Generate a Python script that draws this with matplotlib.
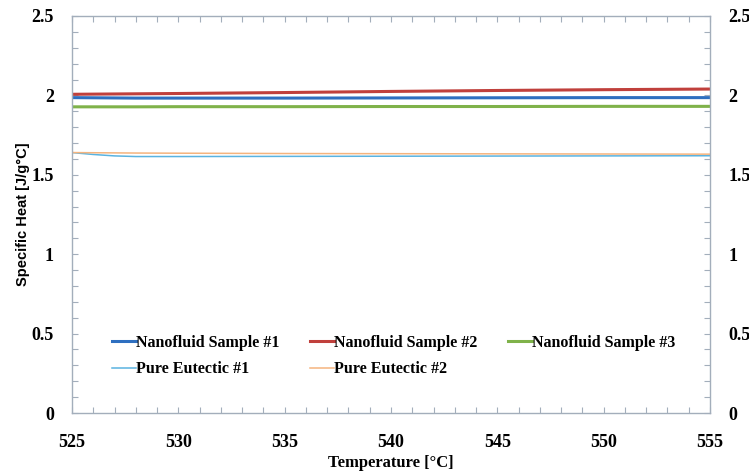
import matplotlib
matplotlib.use("Agg")
import matplotlib.pyplot as plt
from matplotlib.ticker import MultipleLocator, FuncFormatter

temperature = [525, 526, 527, 528, 530, 535, 540, 545, 550, 555]
nano1 = [1.986, 1.985, 1.984, 1.983, 1.983, 1.983, 1.984, 1.985, 1.986, 1.986]
nano2 = [2.007, 2.008, 2.009, 2.010, 2.012, 2.018, 2.025, 2.031, 2.036, 2.040]
nano3 = [1.928, 1.928, 1.928, 1.928, 1.929, 1.929, 1.930, 1.930, 1.931, 1.931]
pure1 = [1.640, 1.628, 1.619, 1.615, 1.615, 1.616, 1.617, 1.618, 1.619, 1.620]
pure2 = [1.640, 1.639, 1.638, 1.637, 1.636, 1.634, 1.633, 1.632, 1.631, 1.630]

series = [
    ("Nanofluid Sample #1", nano1, "#2e6fc0", 2.2),
    ("Nanofluid Sample #2", nano2, "#c0403c", 2.2),
    ("Nanofluid Sample #3", nano3, "#7fb24a", 2.2),
    ("Pure Eutectic #1", pure1, "#5ab3e0", 1.1),
    ("Pure Eutectic #2", pure2, "#f5b47e", 1.1),
]

plt.rcParams['font.family'] = ['Liberation Serif', 'DejaVu Serif']
plt.rcParams['font.weight'] = 'bold'

fig = plt.figure(figsize=(7.49, 4.74), dpi=100)
ax = fig.add_axes([72/749, 1-413/474, (710-72)/749, (413-16)/474])

handles = {}
for label, vals, color, lw in series:
    h, = ax.plot(temperature, vals, color=color, lw=lw, label=label)
    handles[label] = h

ax.set_xlim(525, 555)
ax.set_ylim(0, 2.5)
ax.xaxis.set_major_locator(MultipleLocator(5))
ax.xaxis.set_minor_locator(MultipleLocator(1))
ax.yaxis.set_major_locator(MultipleLocator(0.5))
ax.yaxis.set_minor_locator(MultipleLocator(0.1))
ax.yaxis.set_major_formatter(FuncFormatter(lambda v, p: f"{v:g}"))

spine_color = "#a3aebb"
for s in ax.spines.values():
    s.set_color(spine_color)
    s.set_linewidth(1.0)

ax.tick_params(which='both', direction='in', top=True, right=True,
               labelright=True, color=spine_color, length=4, width=0.8,
               labelsize=13)
ax.tick_params(axis='y', pad=13)
ax.tick_params(axis='x', pad=15)

ax.set_xlabel("Temperature [°C]", fontsize=12, fontweight='bold', labelpad=3)
ax.set_ylabel("Specific Heat [J/g°C]", fontsize=10.5, fontweight='bold', labelpad=1,
              family=['Liberation Sans Narrow', 'Liberation Sans', 'DejaVu Sans'])

order = ["Nanofluid Sample #1", "Pure Eutectic #1", "Nanofluid Sample #2",
         "Pure Eutectic #2", "Nanofluid Sample #3"]
leg = ax.legend([handles[k] for k in order], order,
                loc='upper left', bbox_to_anchor=(0.063, 0.197), ncol=3,
                frameon=False, handlelength=1.5, handletextpad=0.0,
                columnspacing=1.9, labelspacing=0.65, borderpad=0, borderaxespad=0,
                prop={'weight': 'bold', 'size': 11.5})

fig.savefig("out.png", dpi=100)
